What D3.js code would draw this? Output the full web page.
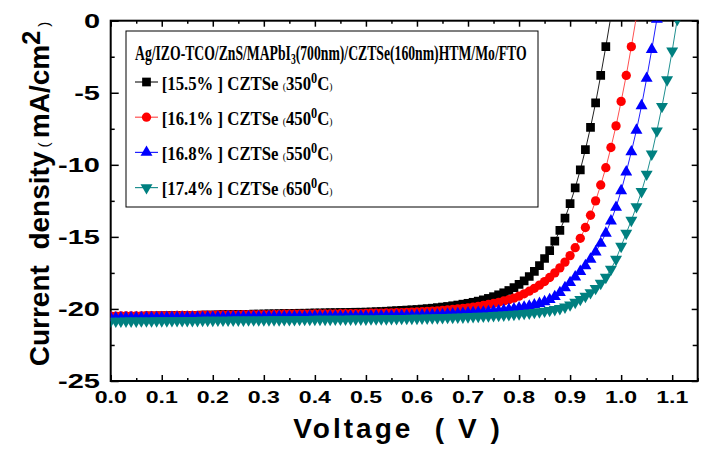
<!DOCTYPE html>
<html>
<head>
<meta charset="utf-8">
<script src="https://cdn.jsdelivr.net/npm/d3@7"></script>
<style>
  body { margin: 0; background: #fff; }
  text { font-family: "Liberation Sans", Arial, sans-serif; }
  .serif { font-family: "Liberation Serif", "Times New Roman", serif; font-weight: bold; }
</style>
</head>
<body>
<script>
// DATA (J in mA/cm2 at each voltage step)
const volts = [
  0.00, 0.01, 0.02, 0.03, 0.04, 0.05, 0.06, 0.07, 0.08, 0.09,
  0.10, 0.11, 0.12, 0.13, 0.14, 0.15, 0.16, 0.17, 0.18, 0.19,
  0.20, 0.21, 0.22, 0.23, 0.24, 0.25, 0.26, 0.27, 0.28, 0.29,
  0.30, 0.31, 0.32, 0.33, 0.34, 0.35, 0.36, 0.37, 0.38, 0.39,
  0.40, 0.41, 0.42, 0.43, 0.44, 0.45, 0.46, 0.47, 0.48, 0.49,
  0.50, 0.51, 0.52, 0.53, 0.54, 0.55, 0.56, 0.57, 0.58, 0.59,
  0.60, 0.61, 0.62, 0.63, 0.64, 0.65, 0.66, 0.67, 0.68, 0.69,
  0.70, 0.71, 0.72, 0.73, 0.74, 0.75, 0.76, 0.77, 0.78, 0.79,
  0.80, 0.81, 0.82, 0.83, 0.84, 0.85, 0.86, 0.87, 0.88, 0.89,
  0.90, 0.91, 0.92, 0.93, 0.94, 0.95, 0.96, 0.97, 0.98, 0.99,
  1.00, 1.01, 1.02, 1.03, 1.04, 1.05, 1.06, 1.07, 1.08, 1.09,
  1.10, 1.11
];

const j350 = [
  -20.55, -20.54, -20.54, -20.53, -20.52, -20.52, -20.51, -20.50, -20.50, -20.49,
  -20.48, -20.48, -20.47, -20.46, -20.46, -20.45, -20.44, -20.44, -20.43, -20.42,
  -20.42, -20.41, -20.40, -20.40, -20.39, -20.38, -20.38, -20.37, -20.36, -20.36,
  -20.35, -20.34, -20.34, -20.33, -20.32, -20.32, -20.31, -20.30, -20.30, -20.29,
  -20.28, -20.28, -20.27, -20.26, -20.26, -20.25, -20.25, -20.24, -20.23, -20.23,
  -20.22, -20.21, -20.19, -20.18, -20.16, -20.14, -20.12, -20.10, -20.08, -20.06,
  -20.04, -20.01, -19.98, -19.95, -19.91, -19.87, -19.83, -19.78, -19.73, -19.67,
  -19.61, -19.54, -19.46, -19.37, -19.27, -19.15, -19.02, -18.88, -18.72, -18.52,
  -18.30, -18.05, -17.75, -17.40, -17.00, -16.50, -15.95, -15.30, -14.55, -13.70,
  -12.70, -11.60, -10.35, -8.95, -7.40, -5.70, -3.80, -1.80, 0.30
];

const j450 = [
  -20.50, -20.50, -20.49, -20.49, -20.49, -20.48, -20.48, -20.47, -20.47, -20.47,
  -20.46, -20.46, -20.46, -20.45, -20.45, -20.45, -20.44, -20.44, -20.43, -20.43,
  -20.43, -20.42, -20.42, -20.42, -20.41, -20.41, -20.40, -20.40, -20.40, -20.39,
  -20.39, -20.39, -20.38, -20.38, -20.37, -20.37, -20.37, -20.36, -20.36, -20.36,
  -20.35, -20.35, -20.34, -20.34, -20.34, -20.33, -20.33, -20.33, -20.32, -20.32,
  -20.31, -20.30, -20.30, -20.29, -20.28, -20.27, -20.26, -20.25, -20.24, -20.22,
  -20.21, -20.19, -20.17, -20.15, -20.13, -20.10, -20.07, -20.04, -20.00, -19.96,
  -19.92, -19.87, -19.82, -19.76, -19.69, -19.62, -19.54, -19.45, -19.36, -19.25,
  -19.11, -18.95, -18.77, -18.57, -18.35, -18.10, -17.82, -17.50, -17.15, -16.75,
  -16.30, -15.75, -15.10, -14.35, -13.50, -12.50, -11.40, -10.20, -8.80, -7.30,
  -5.60, -3.80, -1.80, 0.30
];

const j550 = [
  -20.62, -20.62, -20.62, -20.61, -20.61, -20.61, -20.61, -20.60, -20.60, -20.60,
  -20.60, -20.59, -20.59, -20.59, -20.59, -20.58, -20.58, -20.58, -20.58, -20.57,
  -20.57, -20.57, -20.57, -20.56, -20.56, -20.56, -20.56, -20.55, -20.55, -20.55,
  -20.55, -20.54, -20.54, -20.54, -20.54, -20.53, -20.53, -20.53, -20.53, -20.52,
  -20.52, -20.52, -20.52, -20.52, -20.51, -20.51, -20.51, -20.51, -20.51, -20.50,
  -20.50, -20.50, -20.49, -20.49, -20.48, -20.48, -20.47, -20.47, -20.46, -20.46,
  -20.45, -20.44, -20.43, -20.42, -20.41, -20.39, -20.37, -20.35, -20.33, -20.31,
  -20.28, -20.26, -20.24, -20.22, -20.19, -20.16, -20.13, -20.09, -20.04, -19.99,
  -19.93, -19.87, -19.80, -19.72, -19.62, -19.50, -19.35, -19.14, -18.87, -18.53,
  -18.17, -17.78, -17.40, -17.00, -16.55, -16.05, -15.45, -14.75, -13.90, -12.95,
  -11.80, -10.50, -9.10, -7.60, -5.90, -4.00, -2.00, 0.10
];

const j650 = [
  -20.85, -20.85, -20.85, -20.84, -20.84, -20.84, -20.83, -20.83, -20.83, -20.82,
  -20.82, -20.82, -20.81, -20.81, -20.81, -20.80, -20.80, -20.80, -20.79, -20.79,
  -20.79, -20.78, -20.78, -20.78, -20.77, -20.77, -20.77, -20.76, -20.76, -20.76,
  -20.76, -20.75, -20.75, -20.75, -20.74, -20.74, -20.74, -20.73, -20.73, -20.73,
  -20.72, -20.72, -20.72, -20.72, -20.71, -20.71, -20.71, -20.70, -20.70, -20.70,
  -20.70, -20.69, -20.69, -20.68, -20.68, -20.67, -20.67, -20.66, -20.66, -20.65,
  -20.65, -20.64, -20.63, -20.62, -20.61, -20.60, -20.59, -20.58, -20.57, -20.56,
  -20.54, -20.53, -20.51, -20.50, -20.48, -20.46, -20.44, -20.42, -20.40, -20.37,
  -20.34, -20.31, -20.28, -20.24, -20.20, -20.15, -20.10, -20.04, -19.97, -19.87,
  -19.72, -19.54, -19.34, -19.12, -18.87, -18.57, -18.22, -17.80, -17.25, -16.55,
  -15.65, -14.75, -13.85, -12.90, -11.85, -10.65, -9.25, -7.65, -5.95, -4.10,
  -2.10, 0.10
];

const effLabels = ['[15.5% ] CZTSe ', '[16.1% ] CZTSe ', '[16.8% ] CZTSe ', '[17.4% ] CZTSe '];
const annealTemps = ['350', '450', '550', '650'];
const xMajor = [0.0, 0.1, 0.2, 0.3, 0.4, 0.5, 0.6, 0.7, 0.8, 0.9, 1.0, 1.1];
const xMinor = [0.05, 0.15, 0.25, 0.35, 0.45, 0.55, 0.65, 0.75, 0.85, 0.95, 1.05, 1.15];
const yMajor = [-25, -20, -15, -10, -5, 0];
const yMinor = [-22.5, -17.5, -12.5, -7.5, -2.5];

const curves = [j350, j450, j550, j650];
const colors = ['#000000', '#ff0000', '#0000ff', '#008080'];
const lineColors = ['#222222', '#ff5050', '#2020ff', '#209090'];
const shapes = [
  { type: d3.symbolSquare, size: 76, rot: 0 },
  { type: d3.symbolCircle, size: 68, rot: 0 },
  { type: d3.symbolTriangle, size: 62, rot: 0 },
  { type: d3.symbolTriangle, size: 62, rot: 180 },
];

// LAYOUT
const W = 723, H = 450;
const plotLeft = 110.7, plotRight = 697.7, plotTop = 20.7, plotBottom = 381;

const svg = d3.select('body').append('svg')
  .attr('width', W).attr('height', H);

const x = d3.scaleLinear().domain([0, 1.15]).range([plotLeft, plotRight]);
const y = d3.scaleLinear().domain([-25, 0]).range([plotBottom, plotTop]);

svg.append('clipPath').attr('id', 'plotclip')
  .append('rect')
  .attr('x', plotLeft).attr('y', plotTop)
  .attr('width', plotRight - plotLeft).attr('height', plotBottom - plotTop);

// AXES (ticks point inward on all four sides)
const addAxis = (axisFn, scale, values, size, transform) => {
  const g = svg.append('g')
    .attr('transform', transform)
    .call(axisFn(scale).tickValues(values).tickSize(-size).tickFormat(''));
  g.select('.domain').remove();
  g.selectAll('line').attr('stroke', '#000').attr('stroke-width', 1.5);
  return g;
};

addAxis(d3.axisBottom, x, xMajor, 6, `translate(0,${plotBottom})`);
addAxis(d3.axisBottom, x, xMinor, 3, `translate(0,${plotBottom})`);
addAxis(d3.axisTop, x, xMajor, 6, `translate(0,${plotTop})`);
addAxis(d3.axisTop, x, xMinor, 3, `translate(0,${plotTop})`);
addAxis(d3.axisLeft, y, yMajor, 8, `translate(${plotLeft},0)`);
addAxis(d3.axisLeft, y, yMinor, 4, `translate(${plotLeft},0)`);
addAxis(d3.axisRight, y, yMajor, 6, `translate(${plotRight},0)`);
addAxis(d3.axisRight, y, yMinor, 5, `translate(${plotRight},0)`);

// tick labels
svg.append('g').selectAll('text')
  .data(xMajor)
  .join('text')
  .attr('transform', (d) => `translate(${x(d)},${403}) scale(1.4,1)`)
  .attr('text-anchor', 'middle')
  .attr('font-size', 16.5)
  .attr('font-weight', 'bold')
  .text(d3.format('.1f'));

svg.append('g').selectAll('text')
  .data(yMajor)
  .join('text')
  .attr('transform', (d) => `translate(${100},${y(d) + 7}) scale(1.45,1)`)
  .attr('text-anchor', 'end')
  .attr('font-size', 20)
  .attr('font-weight', 'bold')
  .text((d) => d3.format('d')(d).replace('−', '-'));

// frame
svg.append('rect')
  .attr('x', plotLeft).attr('y', plotTop)
  .attr('width', plotRight - plotLeft).attr('height', plotBottom - plotTop)
  .attr('fill', 'none').attr('stroke', '#000').attr('stroke-width', 2);

// axis titles
svg.append('text')
  .attr('x', 398).attr('y', 438)
  .attr('text-anchor', 'middle')
  .attr('font-size', 28).attr('font-weight', 'bold')
  .attr('letter-spacing', 3)
  .style('white-space', 'pre')
  .text('Voltage  ( V )');

const yt = svg.append('text')
  .attr('transform', 'translate(49,194) rotate(-90)')
  .attr('text-anchor', 'middle')
  .attr('font-size', 28).attr('font-weight', 'bold')
  .style('white-space', 'pre');
yt.append('tspan').text('Current  density');
yt.append('tspan').attr('font-size', 15).attr('font-weight', 'normal').text(' ( ');
yt.append('tspan').text('mA/cm');
yt.append('tspan').attr('font-size', 25).attr('dy', -9).text('2');
yt.append('tspan').attr('font-size', 15).attr('font-weight', 'normal').attr('dy', 9).text(' )');

// CURVES
const line = d3.line().x((d) => x(d[0])).y((d) => y(d[1]));
const plot = svg.append('g').attr('clip-path', 'url(#plotclip)');

curves.forEach((vals, i) => {
  const pts = vals.map((v, k) => [volts[k], v]);
  plot.append('path')
    .attr('d', line(pts))
    .attr('fill', 'none')
    .attr('stroke', lineColors[i])
    .attr('stroke-width', 1);
  const sym = d3.symbol().type(shapes[i].type).size(shapes[i].size);
  plot.append('g').selectAll('path')
    .data(pts)
    .join('path')
    .attr('d', sym)
    .attr('transform', (d) => `translate(${x(d[0])},${y(d[1])}) rotate(${shapes[i].rot})`)
    .attr('fill', colors[i]);
});

// LEGEND
svg.append('rect')
  .attr('x', 126).attr('y', 31)
  .attr('width', 412).attr('height', 176)
  .attr('fill', '#fff').attr('stroke', '#000').attr('stroke-width', 1);

const fitWidth = (sel, x0, y0, w) => {
  const natural = sel.node().getComputedTextLength();
  sel.attr('transform', `translate(${x0},${y0}) scale(${w / natural},1)`);
};

const title = svg.append('text').attr('class', 'serif').attr('font-size', 20);
title.append('tspan').text('Ag/IZO-TCO/ZnS/MAPbI');
title.append('tspan').attr('font-size', 14).attr('dy', 4).text('3');
title.append('tspan').attr('dy', -4).text('(700nm)/CZTSe(160nm)HTM/Mo/FTO');
fitWidth(title, 135, 60, 392);

effLabels.forEach((lab, i) => {
  const cy = 82 + i * 35.2;
  svg.append('line')
    .attr('x1', 135).attr('x2', 158)
    .attr('y1', cy).attr('y2', cy)
    .attr('stroke', lineColors[i]).attr('stroke-width', 1.2);
  svg.append('path')
    .attr('d', d3.symbol().type(shapes[i].type).size(shapes[i].size)())
    .attr('transform', `translate(146.5,${cy}) rotate(${shapes[i].rot})`)
    .attr('fill', colors[i]);
  const t = svg.append('text').attr('class', 'serif').attr('font-size', 19)
    .style('white-space', 'pre');
  t.append('tspan').text(lab);
  t.append('tspan').attr('font-size', 11).attr('font-weight', 'normal').text('(');
  t.append('tspan').text(annealTemps[i]);
  t.append('tspan').attr('font-size', 14).attr('dy', -7).text('0');
  t.append('tspan').attr('dy', 7).text('C');
  t.append('tspan').attr('font-size', 11).attr('font-weight', 'normal').text(')');
  fitWidth(t, 161.7, cy + 7.5, 171);
});
</script>
</body>
</html>
